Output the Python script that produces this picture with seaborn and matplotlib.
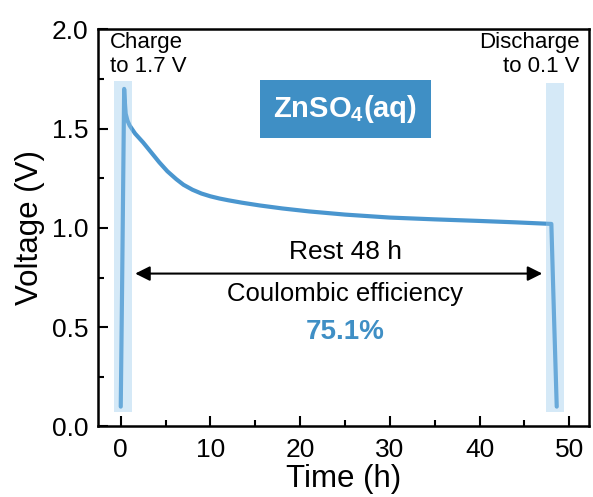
import numpy as np
import pandas as pd
import matplotlib
matplotlib.use("Agg")
import matplotlib.pyplot as plt
import seaborn as sns
from matplotlib.ticker import MultipleLocator

# Data
time_h = [0.0, 0.15, 0.3, 0.38, 0.45, 0.55, 0.75, 1.0, 1.6, 2.5, 3.4, 4.3, 5.2, 6.2, 7.0, 8.0,
          9.0, 10.0, 11.0, 12.0, 13.5, 15.5, 18.0, 21.0, 25.0, 30.0, 35.0, 40.0, 44.0, 48.0,
          48.3, 48.6]
voltage_v = [0.10, 0.70, 1.35, 1.70, 1.64, 1.575, 1.54, 1.515, 1.475, 1.43, 1.38, 1.33, 1.285,
             1.245, 1.217, 1.192, 1.173, 1.159, 1.148, 1.139, 1.127, 1.113, 1.098, 1.083,
             1.067, 1.052, 1.043, 1.035, 1.028, 1.02, 0.55, 0.10]

charge_band = [-0.8, 1.3]
discharge_band = [47.4, 49.4]
band_top = [1.74, 1.73]
band_bottom = 0.075

sns.set_theme(style="ticks")
plt.rcParams['font.family'] = ['Liberation Sans', 'DejaVu Sans']
plt.rcParams['mathtext.fontset'] = 'custom'
plt.rcParams['mathtext.rm'] = 'Liberation Sans'
plt.rcParams['mathtext.bf'] = 'Liberation Sans:bold'
plt.rcParams['text.color'] = 'black'
plt.rcParams['axes.labelcolor'] = 'black'

line_color = "#4a96cf"
band_color = "#98caeb"
box_color = "#3f8fc5"

fig = plt.figure(figsize=(5.93, 4.97), dpi=100)
ax = fig.add_axes([0.1658, 0.1419, 0.8275, 0.7991])

df = pd.DataFrame({"Time (h)": time_h, "Voltage (V)": voltage_v})
sns.lineplot(data=df, x="Time (h)", y="Voltage (V)", ax=ax, color=line_color, lw=3,
             sort=False, estimator=None, zorder=2, solid_capstyle="round",
             solid_joinstyle="round")

ax.fill_between(charge_band, band_bottom, band_top[0], color=band_color, alpha=0.4, lw=0, zorder=3)
ax.fill_between(discharge_band, band_bottom, band_top[1], color=band_color, alpha=0.4, lw=0, zorder=3)

ax.set_xlim(-2.5, 52.2)
ax.set_ylim(0, 2.0)
ax.xaxis.set_major_locator(MultipleLocator(10))
ax.xaxis.set_minor_locator(MultipleLocator(5))
ax.yaxis.set_major_locator(MultipleLocator(0.5))
ax.yaxis.set_minor_locator(MultipleLocator(0.25))
ax.tick_params(which="both", direction="in", width=1.5, labelsize=19, colors="black")
ax.tick_params(which="major", length=7)
ax.tick_params(which="minor", length=4)
ax.tick_params(axis="y", pad=7)
ax.tick_params(axis="x", pad=8)
for s in ax.spines.values():
    s.set_linewidth(1.8)
    s.set_color("black")
ax.set_xlabel("Time (h)", fontsize=22.5, labelpad=2)
ax.set_ylabel("Voltage (V)", fontsize=22.5, labelpad=5)

ax.annotate("", xy=(1.3, 0.77), xytext=(47.3, 0.77),
            arrowprops=dict(arrowstyle="<|-|>", color="black", lw=1.5, mutation_scale=22))
ax.text(25.0, 0.88, "Rest 48 h", ha="center", va="center", fontsize=19)
ax.text(25.0, 0.665, "Coulombic efficiency", ha="center", va="center", fontsize=18.5)
ax.text(25.05, 0.475, "75.1%", ha="center", va="center", fontsize=20, fontweight="bold",
        color=box_color)
ax.text(25.05, 1.60, r"ZnSO$_\mathbf{4}$(aq)", ha="center", va="center", fontsize=21,
        fontweight="bold", color="white",
        bbox=dict(boxstyle="square,pad=0.45", fc=box_color, ec="none"))
ax.text(-1.25, 1.985, "Charge\nto 1.7 V", ha="left", va="top", fontsize=16, linespacing=1.15)
ax.text(51.2, 1.985, "Discharge\nto 0.1 V", ha="right", va="top", fontsize=16,
        linespacing=1.15, multialignment="right")

fig.savefig("out.png", dpi=100)
